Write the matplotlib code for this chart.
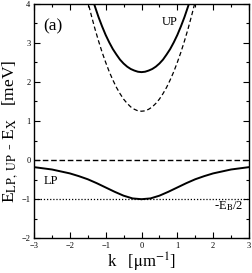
import matplotlib
matplotlib.use("Agg")
import matplotlib.pyplot as plt
from matplotlib.ticker import MultipleLocator

plt.rcParams["font.family"] = ["Liberation Serif", "DejaVu Serif"]
plt.rcParams["mathtext.fontset"] = "stix"

# upper polariton branch
k_up = [-1.4, -1.3, -1.2, -1.1, -1.0, -0.9, -0.8, -0.7, -0.6, -0.5, -0.4, -0.3, -0.2, -0.1,
        0.0, 0.1, 0.2, 0.3, 0.4, 0.5, 0.6, 0.7, 0.8, 0.9, 1.0, 1.1, 1.2, 1.3, 1.4]
e_up = [4.23, 3.93, 3.66, 3.42, 3.20, 3.01, 2.84, 2.70, 2.57, 2.47, 2.39, 2.33, 2.29, 2.26,
        2.25, 2.26, 2.29, 2.33, 2.39, 2.47, 2.57, 2.70, 2.84, 3.01, 3.20, 3.42, 3.66, 3.93, 4.23]

# bare cavity photon
k_ph = [-1.6, -1.5, -1.4, -1.3, -1.2, -1.1, -1.0, -0.9, -0.8, -0.7, -0.6, -0.5, -0.4, -0.3,
        -0.2, -0.1, 0.0, 0.1, 0.2, 0.3, 0.4, 0.5, 0.6, 0.7, 0.8, 0.9, 1.0, 1.1, 1.2, 1.3,
        1.4, 1.5, 1.6]
e_ph = [4.45, 4.06, 3.70, 3.36, 3.05, 2.76, 2.50, 2.26, 2.05, 1.86, 1.70, 1.56, 1.45, 1.36,
        1.30, 1.26, 1.25, 1.26, 1.30, 1.36, 1.45, 1.56, 1.70, 1.86, 2.05, 2.26, 2.50, 2.76,
        3.05, 3.36, 3.70, 4.06, 4.45]

# lower polariton branch
k_lp = [-3.0, -2.75, -2.5, -2.25, -2.0, -1.75, -1.5, -1.25, -1.0, -0.75, -0.5, -0.25,
        0.0, 0.25, 0.5, 0.75, 1.0, 1.25, 1.5, 1.75, 2.0, 2.25, 2.5, 2.75, 3.0]
e_lp = [-0.18, -0.21, -0.24, -0.29, -0.34, -0.41, -0.49, -0.59, -0.70, -0.81, -0.91, -0.98,
        -1.00, -0.98, -0.91, -0.81, -0.70, -0.59, -0.49, -0.41, -0.34, -0.29, -0.24, -0.21, -0.18]

e_exciton = 0.0
e_half_binding = -1.0

fig = plt.figure(figsize=(2.53, 2.73), dpi=100)
ax = fig.add_axes([34 / 253, 1 - 238.3 / 273, 215 / 253, 234.6 / 273])

ax.plot(k_up, e_up, color="black", lw=1.4)
ax.plot(k_ph, e_ph, color="black", lw=0.9, linestyle=(0, (3.5, 2.2)))
ax.plot(k_lp, e_lp, color="black", lw=1.4)
ax.axhline(e_exciton, color="black", lw=1.0, linestyle=(0, (4, 2)))
ax.axhline(e_half_binding, color="black", lw=0.9, linestyle=(0, (1, 1.5)))

ax.set_xlim(-3, 3)
ax.set_ylim(-2, 4)
ax.xaxis.set_major_locator(MultipleLocator(1))
ax.xaxis.set_minor_locator(MultipleLocator(0.5))
ax.yaxis.set_major_locator(MultipleLocator(1))
ax.yaxis.set_minor_locator(MultipleLocator(0.5))
ax.tick_params(which="both", direction="in", top=True, right=True, width=0.8)
ax.tick_params(which="major", length=4.5, labelsize=6, pad=2.5)
ax.tick_params(which="minor", length=2.3)
for s in ax.spines.values():
    s.set_linewidth(1.0)

ax.set_xlabel(r"k   [$\mathrm{\mu}$m$^{-1}$]", fontsize=12, labelpad=1)
ax.set_ylabel(r"E$_{\mathrm{LP,\ UP}}$ - E$_{\mathrm{X}}$   [meV]", fontsize=12.5)
ax.yaxis.set_label_coords(-0.065, 0.455)

ax.text(-2.75, 3.43, "(a)", fontsize=12.5, ha="left", va="center")
ax.text(0.57, 3.52, "UP", fontsize=9, ha="left", va="center")
ax.text(-2.72, -0.53, "LP", fontsize=9, ha="left", va="center")
ax.text(2.85, -1.17, r"-E$_{\mathrm{B}}$/2", fontsize=9, ha="right", va="center")

fig.savefig("out.png", dpi=100)
